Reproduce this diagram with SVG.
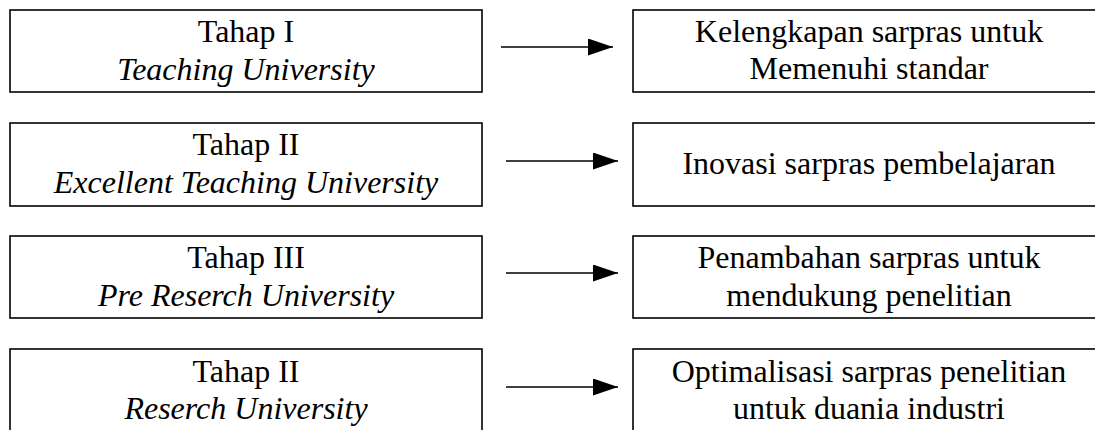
<svg xmlns="http://www.w3.org/2000/svg" width="1095" height="430" viewBox="0 0 1095 430">
  <style>
    .box { fill: #ffffff; stroke: #000000; stroke-width: 1.6; }
    .label { font-family: "Liberation Serif", "Times New Roman", serif; font-size: 32px; fill: #000000; text-anchor: middle; }
    .it { font-style: italic; }
    .link { stroke: #000000; stroke-width: 1.7; fill: none; marker-end: url(#head); }
  </style>
  <defs>
    <marker id="head" markerUnits="userSpaceOnUse" markerWidth="25" markerHeight="17" refX="25" refY="8.5" orient="auto">
      <path d="M0,0 L25,8.5 L0,17 z" fill="#000000"/>
    </marker>
  </defs>
  <rect width="1095" height="430" fill="#ffffff"/>

  <!-- stages -->
  <g id="stage1">
    <rect class="box" x="10" y="10" width="472" height="82"/>
    <text class="label" x="246" y="42">Tahap I</text>
    <text class="label it" x="246" y="80">Teaching University</text>
  </g>
  <g id="stage2">
    <rect class="box" x="10" y="123" width="472" height="83"/>
    <text class="label" x="246" y="155">Tahap II</text>
    <text class="label it" x="246" y="193">Excellent Teaching University</text>
  </g>
  <g id="stage3">
    <rect class="box" x="10" y="236" width="472" height="82"/>
    <text class="label" x="246" y="268">Tahap III</text>
    <text class="label it" x="246" y="306">Pre Reserch University</text>
  </g>
  <g id="stage4">
    <rect class="box" x="10" y="349" width="472" height="83"/>
    <text class="label" x="246" y="382">Tahap II</text>
    <text class="label it" x="246" y="419">Reserch University</text>
  </g>

  <!-- facility focus per stage -->
  <g id="focus1">
    <rect class="box" x="633" y="10" width="472" height="82"/>
    <text class="label" x="869" y="42">Kelengkapan sarpras untuk</text>
    <text class="label" x="869" y="79">Memenuhi standar</text>
  </g>
  <g id="focus2">
    <rect class="box" x="633" y="123" width="472" height="83"/>
    <text class="label" x="869" y="174">Inovasi sarpras pembelajaran</text>
  </g>
  <g id="focus3">
    <rect class="box" x="633" y="236" width="472" height="82"/>
    <text class="label" x="869" y="268">Penambahan sarpras untuk</text>
    <text class="label" x="869" y="306">mendukung penelitian</text>
  </g>
  <g id="focus4">
    <rect class="box" x="633" y="349" width="472" height="83"/>
    <text class="label" x="869" y="382">Optimalisasi sarpras penelitian</text>
    <text class="label" x="869" y="419">untuk duania industri</text>
  </g>

  <!-- connectors -->
  <g id="connectors">
    <line class="link" x1="501" y1="47" x2="613" y2="47"/>
    <line class="link" x1="506" y1="161" x2="618" y2="161"/>
    <line class="link" x1="506" y1="273" x2="618" y2="273"/>
    <line class="link" x1="506" y1="387" x2="618" y2="387"/>
  </g>
</svg>
